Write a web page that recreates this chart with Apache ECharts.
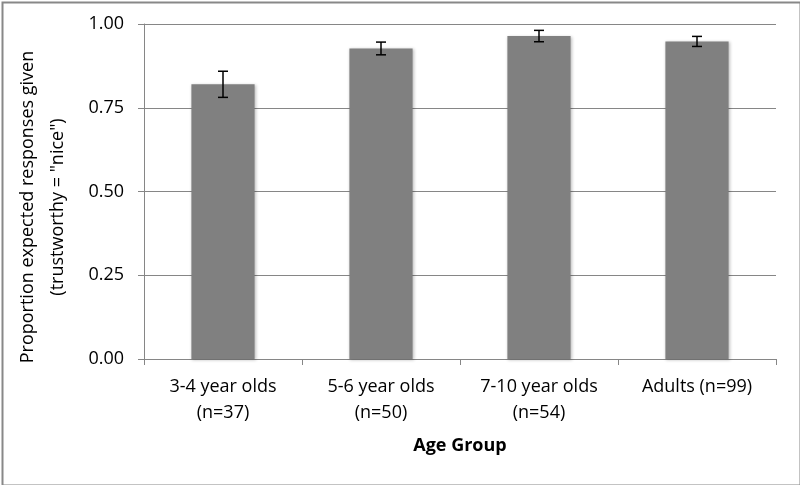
<!DOCTYPE html>
<html>
<head>
<meta charset="utf-8">
<script src="https://cdn.jsdelivr.net/npm/echarts@6/dist/echarts.min.js"></script>
<style>
html,body{margin:0;padding:0;background:#fff;}
#chart{width:800px;height:485px;}
</style>
</head>
<body>
<div id="chart"></div>
<script>
const categories = ['3-4 year olds\n(n=37)', '5-6 year olds\n(n=50)', '7-10 year olds\n(n=54)', 'Adults (n=99)'];
const proportions = [0.820, 0.927, 0.964, 0.948];
const errorMargins = [0.039, 0.019, 0.017, 0.015];
const yTicks = [0, 0.25, 0.5, 0.75, 1.0];
const xTitle = 'Age Group';
const yTitle = 'Proportion expected responses given\n(trustworthy = "nice")';

const FONT = '"Open Sans", "Noto Sans", sans-serif';
const chart = echarts.init(document.getElementById('chart'), null, {renderer: 'canvas'});

const errData = proportions.map((v, i) => [i, v - errorMargins[i], v + errorMargins[i]]);

chart.setOption({
  animation: false,
  backgroundColor: '#fff',
  grid: {left: 144, right: 24, top: 24, bottom: 126, containLabel: false},
  xAxis: {
    type: 'category',
    data: categories,
    axisLine: {lineStyle: {color: '#868686', width: 1}},
    axisTick: {show: true, length: 6, lineStyle: {color: '#868686'}},
    axisLabel: {color: '#000', fontFamily: FONT, fontSize: 18, lineHeight: 26, margin: 15},
    name: xTitle,
    nameLocation: 'middle',
    nameGap: 78,
    nameTextStyle: {color: '#000', fontFamily: FONT, fontSize: 18, fontWeight: 'bold'}
  },
  yAxis: {
    type: 'value',
    min: yTicks[0],
    max: yTicks[yTicks.length - 1],
    interval: 0.25,
    axisLine: {show: true, lineStyle: {color: '#868686', width: 1}},
    axisTick: {show: true, length: 6, lineStyle: {color: '#868686'}},
    splitLine: {show: true, lineStyle: {color: '#868686', width: 1}},
    axisLabel: {color: '#000', fontFamily: FONT, fontSize: 18, margin: 20,
      formatter: v => v.toFixed(2)}
  },
  series: [
    {
      type: 'bar',
      data: proportions,
      barWidth: '40%',
      itemStyle: {color: '#808080', shadowBlur: 3, shadowColor: 'rgba(0,0,0,0.25)', shadowOffsetX: 1, shadowOffsetY: 1},
      z: 2
    },
    {
      type: 'custom',
      data: errData,
      z: 5,
      renderItem: function (params, api) {
        const x = api.value(0);
        const lo = api.coord([x, api.value(1)]);
        const hi = api.coord([x, api.value(2)]);
        const hw = 5;
        const style = {stroke: '#000', lineWidth: 1.5, fill: null};
        return {
          type: 'group',
          children: [
            {type: 'line', shape: {x1: lo[0], y1: lo[1], x2: hi[0], y2: hi[1]}, style: style},
            {type: 'line', shape: {x1: lo[0] - hw, y1: lo[1], x2: lo[0] + hw, y2: lo[1]}, style: style},
            {type: 'line', shape: {x1: hi[0] - hw, y1: hi[1], x2: hi[0] + hw, y2: hi[1]}, style: style}
          ]
        };
      }
    }
  ],
  graphic: [
    {
      type: 'rect',
      left: 0, top: 0,
      shape: {x: 1, y: 1, width: 798, height: 483},
      style: {fill: null, stroke: '#888', lineWidth: 2},
      silent: true
    },
    {
      type: 'text',
      x: 43, y: 207,
      rotation: Math.PI / 2,
      style: {
        text: yTitle,
        fontFamily: FONT,
        fontSize: 18,
        lineHeight: 30,
        fill: '#000',
        align: 'center',
        verticalAlign: 'middle'
      }
    }
  ]
});
</script>
</body>
</html>
